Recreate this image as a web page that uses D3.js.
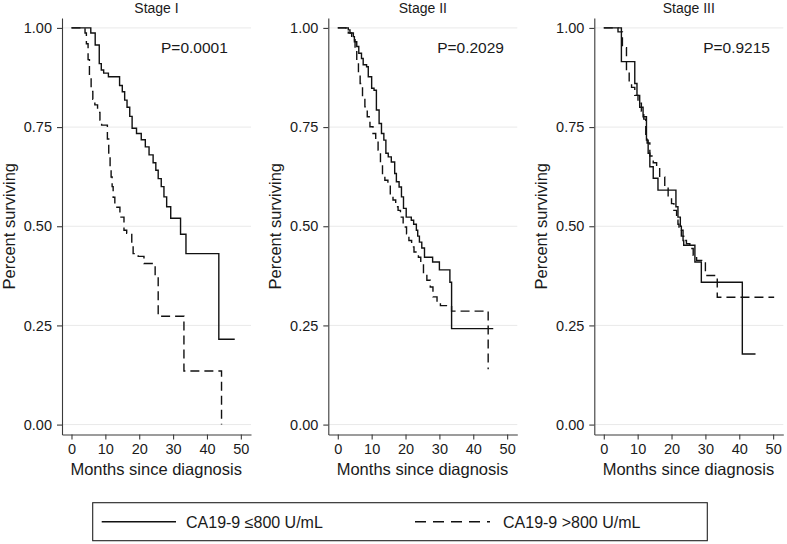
<!DOCTYPE html>
<html>
<head>
<meta charset="utf-8">
<script src="https://cdn.jsdelivr.net/npm/d3@7"></script>
<style>
  html, body { margin: 0; padding: 0; background: #fff; }
  svg { display: block; font-family: "Liberation Sans", Arial, Helvetica, sans-serif; }
</style>
</head>
<body>
<svg id="chart" width="787" height="544"></svg>
<script>
// ---------- data ----------
const stageNames = ["Stage I", "Stage II", "Stage III"];
const pValues = ["P=0.0001", "P=0.2029", "P=0.9215"];
const monthTicks = [0, 10, 20, 30, 40, 50];
const survTicks = [0, 0.25, 0.5, 0.75, 1];
const legendLabels = ["CA19-9 \u2264800 U/mL", "CA19-9 >800 U/mL"];
const xTitle = "Months since diagnosis";
const yTitle = "Percent surviving";

// Stage I, CA19-9 <=800 (solid)
const s1LowTime = [5.7, 7.0, 8.2, 8.8, 9.5, 10.9, 14.2, 15.0, 15.7, 16.4, 17.2, 17.9, 19.2, 20.6, 21.8, 22.9, 24.1, 24.9, 25.6, 26.5, 27.3, 28.1, 29.3, 32.2, 33.8, 43.5];
const s1LowSurv = [0.987, 0.957, 0.91, 0.894, 0.886, 0.877, 0.855, 0.839, 0.818, 0.80, 0.777, 0.747, 0.734, 0.718, 0.70, 0.68, 0.66, 0.641, 0.62, 0.60, 0.574, 0.549, 0.52, 0.48, 0.431, 0.215];
const s1LowEnd = 48.2;
// Stage I, CA19-9 >800 (dashed)
const s1HighTime = [4.0, 4.4, 4.9, 5.3, 5.8, 6.3, 6.9, 7.7, 8.4, 8.9, 10.6, 11.0, 11.4, 11.7, 12.0, 12.3, 12.8, 14.3, 15.5, 16.3, 17.8, 18.2, 19.7, 21.4, 24.7, 25.6, 33.2, 44.3];
const s1HighSurv = [0.987, 0.96, 0.92, 0.88, 0.84, 0.82, 0.806, 0.787, 0.768, 0.755, 0.72, 0.68, 0.65, 0.624, 0.60, 0.573, 0.548, 0.523, 0.49, 0.482, 0.456, 0.431, 0.424, 0.406, 0.372, 0.273, 0.135, 0.0];
const s1HighEnd = 44.3;

// Stage II, CA19-9 <=800 (solid)
const s2LowTime = [3.1, 3.6, 4.6, 4.9, 5.6, 6.2, 7.0, 7.5, 8.5, 9.0, 10.0, 10.7, 11.4, 12.2, 12.9, 13.6, 14.2, 14.9, 15.8, 16.8, 17.3, 18.1, 18.8, 19.4, 20.2, 21.7, 22.4, 23.2, 23.6, 24.1, 24.8, 25.6, 28.0, 30.0, 33.1, 33.6];
const s2LowSurv = [0.995, 0.987, 0.978, 0.965, 0.953, 0.936, 0.923, 0.907, 0.902, 0.877, 0.848, 0.843, 0.793, 0.759, 0.734, 0.717, 0.684, 0.675, 0.662, 0.633, 0.612, 0.599, 0.574, 0.545, 0.523, 0.515, 0.505, 0.49, 0.475, 0.46, 0.445, 0.422, 0.41, 0.39, 0.359, 0.242];
const s2LowEnd = 45.9;
// Stage II, CA19-9 >800 (dashed)
const s2HighTime = [2.4, 3.1, 4.1, 5.1, 5.6, 6.1, 6.6, 7.3, 8.0, 8.7, 9.5, 10.4, 11.2, 11.9, 12.6, 13.2, 13.9, 14.8, 15.5, 16.3, 17.1, 17.8, 18.5, 19.3, 20.3, 21.0, 21.8, 22.5, 23.8, 24.5, 25.3, 26.3, 27.3, 28.1, 29.3, 30.3, 33.6, 44.4];
const s2HighSurv = [0.995, 0.987, 0.97, 0.944, 0.911, 0.886, 0.86, 0.827, 0.801, 0.776, 0.751, 0.734, 0.717, 0.692, 0.658, 0.633, 0.616, 0.608, 0.582, 0.566, 0.549, 0.54, 0.523, 0.498, 0.481, 0.464, 0.448, 0.435, 0.422, 0.406, 0.38, 0.364, 0.347, 0.322, 0.309, 0.30, 0.286, 0.141];
const s2HighEnd = 44.6;

// Stage III, CA19-9 <=800 (solid)
const s3LowTime = [5.2, 9.15, 9.8, 10.6, 11.6, 12.6, 13.1, 13.6, 14.6, 16.0, 21.3, 21.9, 22.6, 22.9, 23.4, 23.6, 26.9, 28.8, 40.9];
const s3LowSurv = [0.915, 0.860, 0.83, 0.80, 0.776, 0.717, 0.684, 0.650, 0.621, 0.591, 0.549, 0.523, 0.50, 0.49, 0.464, 0.452, 0.41, 0.359, 0.178];
const s3LowEnd = 44.8;
// Stage III, CA19-9 >800 (dashed)
const s3HighTime = [4.2, 5.5, 6.7, 7.5, 8.2, 9.15, 10.1, 11.1, 11.8, 12.4, 12.8, 13.6, 14.6, 15.6, 16.5, 18.0, 19.0, 20.0, 20.7, 21.5, 21.9, 22.2, 22.9, 23.6, 24.4, 25.4, 26.4, 27.4, 30.0, 33.5];
const s3HighSurv = [0.99, 0.95, 0.89, 0.86, 0.85, 0.83, 0.81, 0.79, 0.77, 0.73, 0.71, 0.677, 0.66, 0.65, 0.624, 0.60, 0.574, 0.557, 0.54, 0.515, 0.505, 0.49, 0.475, 0.464, 0.456, 0.444, 0.427, 0.414, 0.376, 0.321];
const s3HighEnd = 50.3;

const panels = [
  { low: [s1LowTime, s1LowSurv, s1LowEnd], high: [s1HighTime, s1HighSurv, s1HighEnd], pAt: 36.3 },
  { low: [s2LowTime, s2LowSurv, s2LowEnd], high: [s2HighTime, s2HighSurv, s2HighEnd], pAt: 39.2 },
  { low: [s3LowTime, s3LowSurv, s3LowEnd], high: [s3HighTime, s3HighSurv, s3HighEnd], pAt: 39.2 }
];

// ---------- layout ----------
const svg = d3.select("#chart");
const axisColor = "#3a3a3a";
const textColor = "#1a1a1a";
const gridColor = "#e9e9e9";
const dash = "9,5";
const panelLeft = [62, 328.3, 594.3];
const panelWidth = 189;
const yTop = 18, yBottom = 434.5;

const y = d3.scaleLinear().domain([-0.025, 1.025]).range([yBottom, yTop]);

function stepPoints(times, surv, end) {
  const pts = [[0, 1]];
  times.forEach((t, i) => pts.push([t, surv[i]]));
  pts.push([end, surv[surv.length - 1]]);
  return pts;
}

panels.forEach((p, i) => {
  const x0 = panelLeft[i];
  const x = d3.scaleLinear().domain([-2.8, 53.0]).range([x0, x0 + panelWidth]);
  const g = svg.append("g");

  // gridlines
  g.selectAll("line.grid").data(survTicks).join("line")
    .attr("x1", x0).attr("x2", x0 + panelWidth)
    .attr("y1", d => y(d)).attr("y2", d => y(d))
    .attr("stroke", gridColor).attr("stroke-width", 1);

  // y axis
  const ya = g.append("g").attr("transform", `translate(${x0},0)`)
    .call(d3.axisLeft(y).tickValues(survTicks).tickFormat(d3.format(".2f")).tickSize(5).tickSizeOuter(0).tickPadding(5));
  // x axis
  const xa = g.append("g").attr("transform", `translate(0,${yBottom})`)
    .call(d3.axisBottom(x).tickValues(monthTicks).tickSize(5).tickSizeOuter(0).tickPadding(4));
  [ya, xa].forEach(a => {
    a.select(".domain").attr("stroke", axisColor).attr("stroke-width", 1.1);
    a.selectAll(".tick line").attr("stroke", axisColor).attr("stroke-width", 1.1);
    a.selectAll(".tick text").attr("fill", textColor).style("font-size", "14.5px")
      .style("font-family", '"Liberation Sans", Arial, sans-serif');
  });

  // curves
  const line = d3.line().x(d => x(d[0])).y(d => y(d[1])).curve(d3.curveStepAfter);
  g.append("path").datum(stepPoints(...p.low)).attr("d", line)
    .attr("fill", "none").attr("stroke", "#111").attr("stroke-width", 1.4);
  g.append("path").datum(stepPoints(...p.high)).attr("d", line)
    .attr("fill", "none").attr("stroke", "#111").attr("stroke-width", 1.4)
    .attr("stroke-dasharray", dash);

  // titles
  g.append("text").attr("x", x0 + panelWidth / 2).attr("y", 12.5)
    .attr("text-anchor", "middle").attr("fill", textColor).style("font-size", "14px")
    .text(stageNames[i]);
  g.append("text").attr("x", x(p.pAt)).attr("y", 52.5)
    .attr("text-anchor", "middle").attr("fill", textColor).style("font-size", "15.5px")
    .text(pValues[i]);
  g.append("text").attr("x", x(25)).attr("y", 475)
    .attr("text-anchor", "middle").attr("fill", textColor).style("font-size", "16.5px")
    .text(xTitle);
  g.append("text")
    .attr("transform", `translate(${x0 - 47},${(y(0) + y(1)) / 2}) rotate(-90)`)
    .attr("text-anchor", "middle").attr("fill", textColor).style("font-size", "16.5px")
    .text(yTitle);
});

// legend
const lg = svg.append("g");
lg.append("rect").attr("x", 92.7).attr("y", 502.7).attr("width", 614.6).attr("height", 38)
  .attr("fill", "none").attr("stroke", "#222").attr("stroke-width", 1.1);
const legendItems = [
  { x1: 101.7, x2: 176, tx: 186, dashed: false },
  { x1: 415, x2: 490, tx: 503, dashed: true }
];
legendItems.forEach((it, i) => {
  lg.append("line").attr("x1", it.x1).attr("x2", it.x2).attr("y1", 521.7).attr("y2", 521.7)
    .attr("stroke", "#111").attr("stroke-width", 1.4)
    .attr("stroke-dasharray", it.dashed ? "11,7" : null);
  lg.append("text").attr("x", it.tx).attr("y", 527.5).attr("fill", textColor)
    .style("font-size", "16px").text(legendLabels[i]);
});
</script>
</body>
</html>
